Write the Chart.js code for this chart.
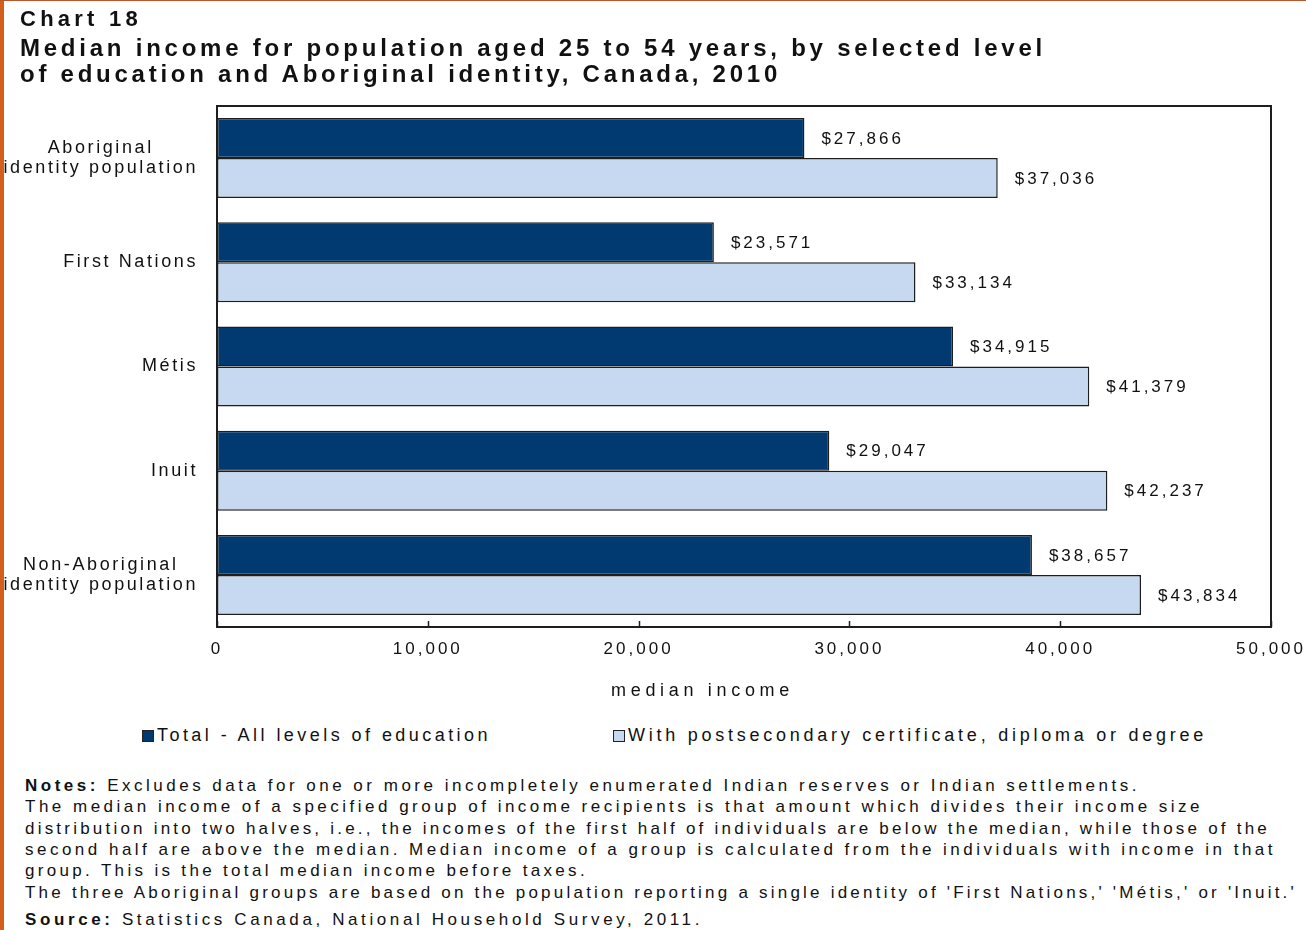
<!DOCTYPE html>
<html>
<head>
<meta charset="utf-8">
<script src="https://cdn.jsdelivr.net/npm/chart.js@4.4.1/dist/chart.umd.min.js"></script>
<style>
  body { margin: 0; background: #fff; }
  #page { position: relative; width: 1306px; height: 930px; overflow: hidden;
          font-family: "Liberation Sans", Arial, sans-serif; color: #111; }
  #page div.t { position: absolute; white-space: nowrap; }
  .edge-left { position: absolute; left: 0; top: 0; width: 4px; height: 930px; background: #d2601a; z-index: 5; }
  .edge-top { position: absolute; left: 0; top: 0; width: 1306px; height: 1px; background: #b9582a; z-index: 5; }
  canvas { position: absolute; left: 0; top: 0; }
  .lg { display: inline-block; width: 10px; height: 10px; border: 1.5px solid #222; margin-right: 3px; vertical-align: -1px; }
</style>
</head>
<body>
<div id="page">
  <div class="edge-left"></div>
  <div class="edge-top"></div>
  <canvas id="myChart" width="1306" height="701"></canvas>

  <!-- title -->
  <div class="t fit" data-w="122" style="left:20px; top:6px; font:bold 22px 'Liberation Sans', Arial; line-height:26px;">Chart 18</div>
  <div class="t fit" data-w="1026" style="left:20px; top:35px; font:bold 24px 'Liberation Sans', Arial; line-height:26px;">Median income for population aged 25 to 54 years, by selected level</div>
  <div class="t fit" data-w="761" style="left:20px; top:61px; font:bold 24px 'Liberation Sans', Arial; line-height:26px;">of education and Aboriginal identity, Canada, 2010</div>

  <!-- axis title -->
  <div class="t fit" data-w="183" style="left:611px; top:679px; font:18px 'Liberation Sans', Arial; line-height:22px;">median income</div>

  <!-- legend -->
  <div class="t" style="left:142px; top:724px; font:18px 'Liberation Sans', Arial; line-height:22px;"><span class="lg" style="background:#003a70"></span><span class="fit" data-w="334">Total - All levels of education</span></div>
  <div class="t" style="left:613px; top:724px; font:18px 'Liberation Sans', Arial; line-height:22px;"><span class="lg" style="background:#c6d9f0"></span><span class="fit" data-w="579">With postsecondary certificate, diploma or degree</span></div>

  <!-- notes -->
  <div class="t fit" data-w="1115" style="left:25px; top:775px; font:17px 'Liberation Sans', Arial; line-height:21px;"><b>Notes:</b> Excludes data for one or more incompletely enumerated Indian reserves or Indian settlements.</div>
  <div class="t fit" data-w="1178" style="left:25px; top:796px; font:17px 'Liberation Sans', Arial; line-height:21px;">The median income of a specified group of income recipients is that amount which divides their income size</div>
  <div class="t fit" data-w="1245" style="left:25px; top:818px; font:17px 'Liberation Sans', Arial; line-height:21px;">distribution into two halves, i.e., the incomes of the first half of individuals are below the median, while those of the</div>
  <div class="t fit" data-w="1251" style="left:25px; top:839px; font:17px 'Liberation Sans', Arial; line-height:21px;">second half are above the median. Median income of a group is calculated from the individuals with income in that</div>
  <div class="t fit" data-w="563" style="left:25px; top:860px; font:17px 'Liberation Sans', Arial; line-height:21px;">group. This is the total median income before taxes.</div>
  <div class="t fit" data-w="1272" style="left:25px; top:882px; font:17px 'Liberation Sans', Arial; line-height:21px;">The three Aboriginal groups are based on the population reporting a single identity of 'First Nations,' 'Métis,' or 'Inuit.'</div>
  <div class="t fit" data-w="678" style="left:25px; top:909px; font:17px 'Liberation Sans', Arial; line-height:21px;"><b>Source:</b> Statistics Canada, National Household Survey, 2011.</div>
</div>

<script>
// data
const categories = [
  ["Aboriginal", "identity population"],
  ["First Nations"],
  ["Métis"],
  ["Inuit"],
  ["Non-Aboriginal", "identity population"],
];
const totalAll = [27866, 23571, 34915, 29047, 38657];
const postsecondary = [37036, 33134, 41379, 42237, 43834];
const seriesNames = ["Total - All levels of education", "With postsecondary certificate, diploma or degree"];
const xTicks = [0, 10000, 20000, 30000, 40000, 50000];

const darkBlue = "#003a70";
const lightBlue = "#c6d9f0";
const edge = "#1e1e1e";
const spacing = "3px";

// stretch html text lines to the widths in the picture
document.querySelectorAll(".fit").forEach((el) => {
  const target = +el.dataset.w;
  const n = el.textContent.length;
  const w = el.getBoundingClientRect().width;
  el.style.letterSpacing = ((target - w) / n) + "px";
});

const ctx = document.getElementById("myChart").getContext("2d");

// frame, inner ticks, category labels and value labels
const decorations = {
  id: "decorations",
  beforeDraw(chart) {
    chart.ctx.letterSpacing = spacing;
  },
  afterDraw(chart) {
    const c = chart.ctx;
    const area = chart.chartArea;
    const xs = chart.scales.x;
    const ys = chart.scales.y;
    c.save();
    c.letterSpacing = spacing;

    // value labels
    c.font = "17px 'Liberation Sans', Arial";
    c.fillStyle = "#111";
    c.textAlign = "left";
    c.textBaseline = "middle";
    chart.data.datasets.forEach((ds, di) => {
      chart.getDatasetMeta(di).data.forEach((bar, i) => {
        const txt = "$" + ds.data[i].toLocaleString("en-US");
        c.fillText(txt, bar.x + 17, bar.y + 1);
      });
    });

    // category labels
    c.letterSpacing = "2.6px";
    c.font = "18px 'Liberation Sans', Arial";
    c.textAlign = "center";
    categories.forEach((lines, i) => {
      const y = ys.getPixelForValue(i);
      const widest = Math.max(...lines.map((l) => c.measureText(l).width));
      const cx = 198 - widest / 2;
      lines.forEach((l, j) => {
        c.fillText(l, cx, y + (j - (lines.length - 1) / 2) * 20);
      });
    });

    // frame
    c.strokeStyle = edge;
    c.lineWidth = 2;
    c.strokeRect(area.left, area.top, area.right - area.left, area.bottom - area.top);

    // tick marks pointing inward
    c.lineWidth = 1.5;
    xTicks.forEach((v) => {
      const x = Math.round(xs.getPixelForValue(v)) + 0.5;
      c.beginPath();
      c.moveTo(x, area.bottom);
      c.lineTo(x, area.bottom - 6);
      c.stroke();
    });
    c.restore();
  },
};

const data = {
  labels: categories,
  datasets: [
    {
      label: seriesNames[0],
      data: totalAll,
      backgroundColor: darkBlue,
      borderColor: edge,
      borderWidth: 1.5,
      borderSkipped: false,
    },
    {
      label: seriesNames[1],
      data: postsecondary,
      backgroundColor: lightBlue,
      borderColor: edge,
      borderWidth: 1.5,
      borderSkipped: false,
    },
  ],
};

const config = {
  type: "bar",
  data: data,
  options: {
    indexAxis: "y",
    responsive: false,
    animation: false,
    devicePixelRatio: 1,
    layout: { padding: { left: 0, right: 35, top: 106, bottom: 0 } },
    datasets: { bar: { categoryPercentage: 0.768, barPercentage: 1.0 } },
    scales: {
      x: {
        min: 0,
        max: 50000,
        afterBuildTicks: (scale) => {
          scale.ticks = xTicks.map((v) => ({ value: v }));
        },
        afterFit: (scale) => {
          scale.height = 74;
          scale.paddingLeft = 0;
          scale.paddingRight = 0;
        },
        grid: { display: false, drawTicks: false },
        border: { display: false },
        ticks: {
          padding: 12,
          color: "#111",
          font: { family: "'Liberation Sans', Arial", size: 17 },
          maxRotation: 0,
          callback: (v) => v.toLocaleString("en-US"),
        },
      },
      y: {
        afterFit: (scale) => {
          scale.width = 217;
        },
        grid: { display: false },
        border: { display: false },
        ticks: { display: false },
      },
    },
    plugins: {
      legend: { display: false },
      title: { display: false },
      tooltip: { enabled: false },
    },
  },
  plugins: [decorations],
};

const myChart = new Chart(ctx, config);
</script>
</body>
</html>
